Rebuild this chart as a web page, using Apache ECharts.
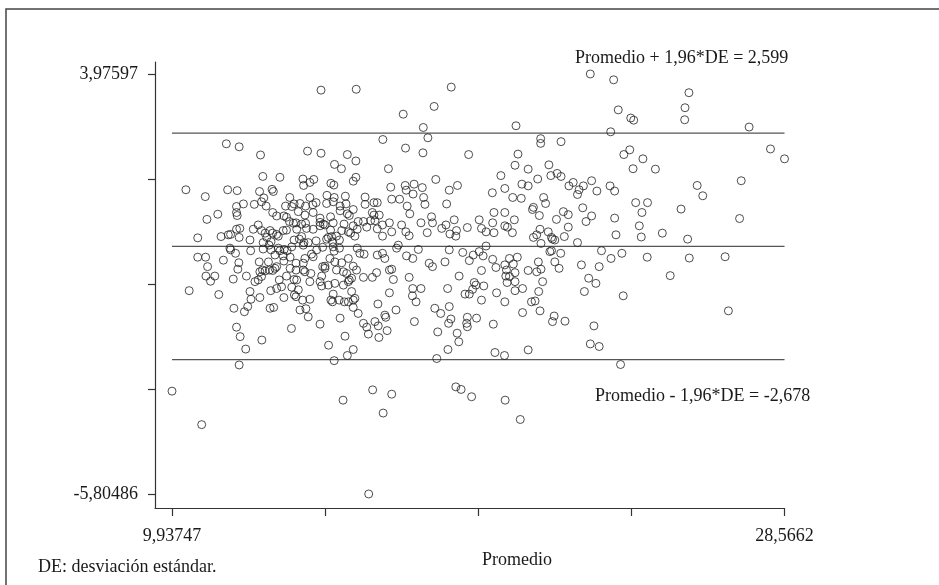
<!DOCTYPE html>
<html>
<head>
<meta charset="utf-8">
<script src="https://cdn.jsdelivr.net/npm/echarts@6/dist/echarts.min.js"></script>
<style>
html, body { margin: 0; padding: 0; background: #fff; }
#chart { width: 939px; height: 585px; }
</style>
</head>
<body>
<div id="chart"></div>
<script>
// ticks y etiquetas de los ejes
const xTicks = [9.93747, 14.59465, 19.25183, 23.90901, 28.5662];
const xLabels = [9.93747, 28.5662];
const yTicks = [3.97597, 1.53076, -0.91445, -3.35966, -5.80486];
const yLabels = [3.97597, -5.80486];

// limites de acuerdo (Bland-Altman)
const limiteSuperior = 2.599;
const media = -0.04;
const limiteInferior = -2.678;

// [promedio, diferencia]
const puntosIzqArriba = [
  [14.47,3.60],[15.54,3.62],[11.59,2.35],[11.98,2.28],[12.63,2.09],[14.06,2.18],[14.47,2.13],[15.27,2.10],
  [15.53,1.95],[14.88,1.87],[15.09,1.77],[12.70,1.59],[13.22,1.57],[13.92,1.53],[14.25,1.52],[13.94,1.38],
  [14.13,1.45],[14.77,1.43],[14.86,1.39],[15.53,1.57],[15.45,1.48],[10.36,1.28],[11.63,1.28],[11.92,1.26],
  [12.60,1.24],[12.98,1.29],[13.02,1.24],[10.95,1.12],[12.73,1.09],[13.52,1.10],[14.13,1.10],[14.65,1.15],
  [14.87,1.10],[15.21,1.13],[15.81,1.11]
];

const puntosCentroArriba = [
  [22.66,3.97597],[18.43,3.67],[17.91,3.22],[16.97,3.04],[17.58,2.73],[20.40,2.77],[16.35,2.45],[17.72,2.49],
  [17.04,2.25],[17.57,2.14],[21.15,2.47],[21.15,2.36],[21.77,2.40],[18.96,2.10],[20.46,2.11],[16.52,1.77],
  [20.37,1.85],[20.77,1.76],[21.40,1.86],[21.06,1.53],[19.94,1.61],[21.46,1.61],[21.65,1.66],[21.77,1.59],
  [22.14,1.45],[22.01,1.37],[22.70,1.49],[22.86,1.25],[22.45,1.37],[22.32,1.28],[22.27,1.17],[16.59,1.34],
  [17.03,1.38],[17.30,1.41],[17.55,1.33],[17.06,1.27],[17.27,1.18],[17.96,1.52],[18.62,1.38],[18.37,1.27],
  [19.68,1.21],[20.06,1.31],[20.58,1.41],[20.77,1.37],[20.30,1.10],[20.56,1.08],[21.24,1.10],[16.62,1.06],
  [16.86,1.06],[17.59,1.10]
];

const puntosDerArriba = [
  [23.37,3.84],[25.66,3.54],[23.51,3.14],[25.54,3.19],[23.89,2.95],[23.98,2.90],[25.53,2.91],[23.28,2.63],
  [27.49,2.74],[28.14,2.23],[28.5662,2.00],[23.86,2.21],[23.68,2.10],[24.26,2.00],[23.96,1.77],[24.64,1.76],
  [23.26,1.37],[23.40,1.25],[25.91,1.38],[26.08,1.14],[27.25,1.49]
];

const puntosIzqCentro = [
  [11.90,0.89],[12.11,0.95],[12.44,0.94],[12.66,1.00],[12.80,0.90],[13.39,0.90],[13.58,0.89],[13.65,0.95],
  [13.83,0.96],[14.00,0.90],[14.22,0.93],[14.32,0.98],[14.64,0.96],[14.84,1.00],[15.05,0.90],[15.23,0.95],
  [15.45,0.82],[15.81,0.94],[11.33,0.71],[11.00,0.59],[11.90,0.75],[11.92,0.68],[13.00,0.75],[13.12,0.67],
  [13.34,0.67],[13.42,0.64],[13.78,0.77],[13.98,0.69],[14.23,0.75],[14.44,0.62],[14.76,0.65],[15.05,0.79],
  [15.27,0.72],[15.33,0.68],[16.03,0.75],[13.51,0.54],[13.63,0.50],[13.71,0.51],[13.88,0.48],[14.00,0.50],
  [14.44,0.52],[14.54,0.48],[14.84,0.51],[15.17,0.48],[15.45,0.44],[15.60,0.54],[15.76,0.54],[15.98,0.56],
  [11.43,0.19],[11.65,0.23],[11.72,0.24],[11.90,0.36],[12.00,0.38],[11.98,0.17],[12.41,0.36],[12.56,0.46],
  [12.66,0.33],[12.77,0.27],[12.92,0.33],[13.00,0.27],[13.12,0.24],[13.17,0.20],[13.32,0.33],[13.42,0.34],
  [13.73,0.36],[13.88,0.19],[14.03,0.38],[14.23,0.36],[14.44,0.44],[14.59,0.46],[14.76,0.34],[14.79,0.19],
  [14.94,0.20],[15.10,0.33],[15.30,0.30],[15.37,0.27],[15.50,0.20],[15.57,0.36],[15.86,0.41],
  [10.72,0.16],[12.31,0.11],[12.71,0.05],[12.82,0.17],[12.95,0.07],[13.65,0.11],[13.81,0.13],[13.95,0.05],
  [14.08,0.05],[14.32,0.09],[14.64,0.13],[14.69,0.17],[14.82,0.07],[15.03,0.11],
  [11.70,-0.08],[11.72,-0.12],[11.87,-0.20],[12.33,-0.14],[12.71,-0.10],[12.89,-0.01],[12.95,-0.12],[13.17,-0.08],
  [13.22,-0.14],[13.35,-0.11],[13.44,-0.14],[13.58,-0.05],[13.93,-0.01],[14.18,-0.22],[14.34,-0.12],[14.52,-0.06],
  [14.84,-0.05],[14.87,-0.15],[15.03,-0.08],[15.57,-0.08],[15.65,-0.20],[15.78,-0.22],
  [10.72,-0.29],[10.96,-0.29],[11.50,-0.36],[11.97,-0.42],[12.59,-0.40],[12.87,-0.40],[13.07,-0.24],[13.32,-0.26],
  [13.34,-0.38],[13.53,-0.29],[13.71,-0.43],[13.93,-0.43],[13.98,-0.32],[14.23,-0.28],[14.52,-0.51],[14.59,-0.50],
  [14.74,-0.32],[14.89,-0.40],[15.10,-0.42],[15.30,-0.32],[15.45,-0.50],
  [11.02,-0.51],[11.94,-0.57],[12.61,-0.63],[12.69,-0.59],[12.77,-0.61],[12.90,-0.59],[13.00,-0.60],[13.07,-0.55],
  [13.12,-0.51],[13.53,-0.55],[13.71,-0.59],[13.93,-0.59],[13.98,-0.63],[14.16,-0.67],[14.49,-0.73],[14.59,-0.55],
  [14.94,-0.59],[15.15,-0.63],[15.25,-0.67],[15.33,-0.82],[15.40,-0.78],[15.55,-0.59],[15.76,-0.76],[16.03,-0.76],
  [10.97,-0.73],[11.24,-0.73],[11.11,-0.85],[11.80,-0.80],[12.20,-0.73],[12.46,-0.86],[12.56,-0.82],[12.66,-0.74],
  [13.20,-0.82],[13.42,-0.73],[13.65,-0.81],[13.73,-0.82],[14.13,-0.86],[14.44,-0.86],[14.49,-0.96],[14.69,-0.94],
  [14.89,-0.90],[15.15,-0.94],[15.30,-0.86],
  [10.46,-1.07],[11.36,-1.16],[12.31,-1.09],[12.34,-1.27],[12.61,-1.23],[12.94,-1.07],[13.12,-1.02],[13.27,-0.98],
  [13.34,-1.23],[13.58,-0.99],[13.66,-1.17],[13.71,-1.21],[13.78,-1.05],[13.91,-1.29],[14.13,-1.27],[14.84,-1.15],
  [14.77,-1.29],[14.82,-1.33],[15.02,-1.29],[15.18,-1.33],[15.30,-1.33],[15.45,-1.29],[15.50,-1.25],[15.40,-1.09],
  [11.82,-1.48],[12.14,-1.56],[12.24,-1.44],[12.92,-1.48],[13.03,-1.46],[13.83,-1.52],[14.01,-1.49],[14.08,-1.68],
  [15.05,-1.71],[15.45,-1.46],[15.60,-1.60],
  [11.90,-1.92],[12.01,-2.14],[12.67,-2.22],[13.57,-1.95],[14.44,-1.85],[15.20,-2.13],[15.76,-1.83],[15.86,-1.92],
  [15.91,-2.08]
];

const puntosCentro = [
  [16.18,0.98],[16.08,0.98],[17.09,0.90],[17.63,0.94],[18.29,0.95],[17.17,0.72],[16.24,0.69],[16.08,0.69],
  [16.11,0.56],[16.34,0.46],[16.55,0.51],[16.18,0.37],[16.34,0.20],[16.62,0.30],[16.92,0.46],[17.05,0.30],
  [17.15,0.21],[17.51,0.51],[17.83,0.65],[17.86,0.51],[17.70,0.28],[18.14,0.38],[18.27,0.46],[18.39,0.25],
  [18.52,0.58],[18.59,0.33],[18.57,0.20],[18.92,0.40],[19.28,0.58],[19.35,0.38],[19.49,0.30],[19.69,0.51],
  [19.73,0.75],[19.73,0.28],[20.06,0.75],[20.06,0.44],[20.14,0.41],[20.29,0.28],[20.35,0.58],[20.93,0.87],
  [20.90,0.82],[21.30,0.96],[21.11,0.68],[20.93,0.17],[21.03,0.23],[21.13,0.36],[21.38,0.30],[21.48,0.17],
  [21.58,0.11],[21.51,0.13],[21.16,0.03],[21.63,0.59],[21.84,0.77],[21.99,0.70],[21.99,0.41],[21.87,0.19],
  [22.27,0.05],[22.43,0.86],[22.70,0.67],[22.53,0.54],
  [16.82,-0.01],[16.77,-0.08],[17.43,-0.11],[17.07,-0.26],[17.26,-0.32],[18.37,-0.12],[18.78,-0.18],[18.98,-0.37],
  [19.10,-0.24],[19.28,-0.16],[19.49,-0.03],[19.40,-0.26],[18.24,-0.40],[17.76,-0.43],[17.86,-0.51],[16.18,-0.24],
  [16.34,-0.20],[16.41,-0.32],[16.16,-0.65],[16.62,-0.57],[16.55,-0.59],[16.67,-0.81],[17.15,-0.76],[17.26,-1.02],
  [17.51,-1.02],[17.25,-1.19],[17.36,-1.33],[16.55,-1.12],[16.20,-1.38],[16.75,-1.52],[16.41,-1.64],[16.44,-1.69],
  [16.11,-1.79],[16.21,-1.89],[16.48,-2.00],[16.23,-2.16],[17.31,-1.79],[17.93,-1.48],[18.11,-1.60],[18.37,-1.44],
  [18.42,-1.73],[18.35,-1.83],[18.61,-2.06],[18.02,-2.03],[18.32,-1.02],[18.67,-0.73],[18.85,-1.15],[18.98,-1.15],
  [19.08,-1.04],[19.13,-0.88],[19.18,-0.94],[19.42,-0.96],[19.35,-1.29],[19.81,-1.12],[20.06,-1.33],[19.35,-0.60],
  [19.69,-0.34],[19.79,-0.53],[20.06,-0.47],[20.11,-0.59],[20.20,-0.32],[20.32,-0.45],[20.44,-0.29],[20.09,-0.73],
  [20.20,-0.74],[20.13,-0.88],[20.37,-0.65],[20.37,-0.86],[20.37,-1.07],[20.60,-1.02],[20.77,-0.60],[21.03,-0.63],
  [21.08,-0.40],[21.16,-0.57],[21.21,-0.86],[21.09,-1.09],[20.87,-1.33],[20.98,-1.31],[21.13,-1.54],[20.60,-1.58],
  [21.43,-0.16],[21.48,-0.14],[21.58,-0.40],[21.71,-0.55],[21.76,-0.20],[22.39,-0.47],[22.61,-0.78],[22.83,-0.90],
  [22.93,-0.51],[23.00,-0.14],[22.48,-1.09],[21.56,-1.66],[21.51,-1.79],[21.89,-1.78],[22.77,-1.89],[18.92,-1.69],
  [18.90,-1.83],[18.92,-1.91],[19.20,-1.71],[19.71,-1.85]
];

const puntosDerCentro = [
  [24.04,0.98],[24.40,0.98],[24.23,0.75],[25.42,0.83],[23.40,0.62],[27.20,0.61],[24.15,0.44],[23.44,0.23],
  [24.21,0.18],[24.85,0.27],[25.62,0.13],[23.29,-0.32],[23.62,-0.20],[24.39,-0.29],[25.67,-0.31],[26.76,-0.28],
  [25.09,-0.72],[23.66,-1.19],[26.86,-1.54]
];

const puntosAbajo = [
  [12.18,-2.43],[11.98,-2.80],[14.70,-2.34],[14.87,-2.70],[15.27,-2.58],[15.45,-2.44],[9.93747,-3.41],[10.84,-4.19],
  [15.14,-3.62],[16.04,-3.38],[15.92,-5.80486],
  [18.66,-2.26],[18.33,-2.44],[17.99,-2.65],[19.76,-2.51],[20.05,-2.58],[20.77,-2.45],[22.66,-2.31],[22.93,-2.37],
  [16.62,-3.48],[16.36,-3.92],[18.57,-3.31],[18.73,-3.37],[19.05,-3.54],[20.07,-3.62],[20.53,-4.07],
  [23.58,-2.79]
];

const puntos = [].concat(puntosIzqArriba, puntosCentroArriba, puntosDerArriba,
  puntosIzqCentro, puntosCentro, puntosDerCentro, puntosAbajo);

const fuente = '"Liberation Serif", "Times New Roman", serif';
const coma = v => String(v).replace('.', ',');

const lineaHorizontal = (valor) => ({
  type: 'line',
  data: [[xLabels[0], valor], [xLabels[1], valor]],
  showSymbol: false,
  silent: true,
  z: 1,
  lineStyle: { color: '#555', width: 1.3 }
});

const chart = echarts.init(document.getElementById('chart'));

const option = {
  animation: false,
  backgroundColor: '#fff',
  grid: { left: 155, right: 154.5, top: 62, bottom: 77 },
  xAxis: {
    type: 'value',
    min: 9.4204,
    max: 28.5662,
    splitLine: { show: false },
    axisLine: { show: true, onZero: false, lineStyle: { color: '#333', width: 1.2 } },
    axisTick: { show: true, length: 8, customValues: xTicks, lineStyle: { color: '#333', width: 1.2 } },
    axisLabel: {
      customValues: xLabels,
      formatter: coma,
      margin: 19,
      fontFamily: fuente,
      fontSize: 18,
      color: '#1a1a1a'
    }
  },
  yAxis: {
    type: 'value',
    min: -6.131,
    max: 4.255,
    splitLine: { show: false },
    axisLine: { show: true, onZero: false, lineStyle: { color: '#333', width: 1.2 } },
    axisTick: { show: true, length: 7, customValues: yTicks, lineStyle: { color: '#333', width: 1.2 } },
    axisLabel: {
      customValues: yLabels,
      formatter: coma,
      margin: 17,
      fontFamily: fuente,
      fontSize: 18,
      color: '#1a1a1a'
    }
  },
  series: [
    lineaHorizontal(limiteSuperior),
    lineaHorizontal(media),
    lineaHorizontal(limiteInferior),
    {
      type: 'scatter',
      data: puntos,
      symbol: 'circle',
      symbolSize: 8,
      z: 2,
      itemStyle: { color: 'rgba(0,0,0,0)', borderColor: '#222', borderWidth: 1 }
    }
  ],
  graphic: [
    {
      type: 'rect',
      shape: { x: 6, y: 9, width: 960, height: 600 },
      style: { fill: 'none', stroke: '#444', lineWidth: 1.5 },
      silent: true
    },
    {
      type: 'text', x: 575, y: 58,
      style: { text: 'Promedio + 1,96*DE = ' + coma(limiteSuperior), font: '18px ' + fuente, fill: '#1a1a1a', verticalAlign: 'middle' }
    },
    {
      type: 'text', x: 595, y: 396,
      style: { text: 'Promedio - 1,96*DE = ' + coma(limiteInferior), font: '18px ' + fuente, fill: '#1a1a1a', verticalAlign: 'middle' }
    },
    {
      type: 'text', x: 482, y: 560,
      style: { text: 'Promedio', font: '18px ' + fuente, fill: '#1a1a1a', verticalAlign: 'middle' }
    },
    {
      type: 'text', x: 38, y: 567,
      style: { text: 'DE: desviación estándar.', font: '18px ' + fuente, fill: '#1a1a1a', verticalAlign: 'middle' }
    }
  ]
};

option && chart.setOption(option);
</script>
</body>
</html>
